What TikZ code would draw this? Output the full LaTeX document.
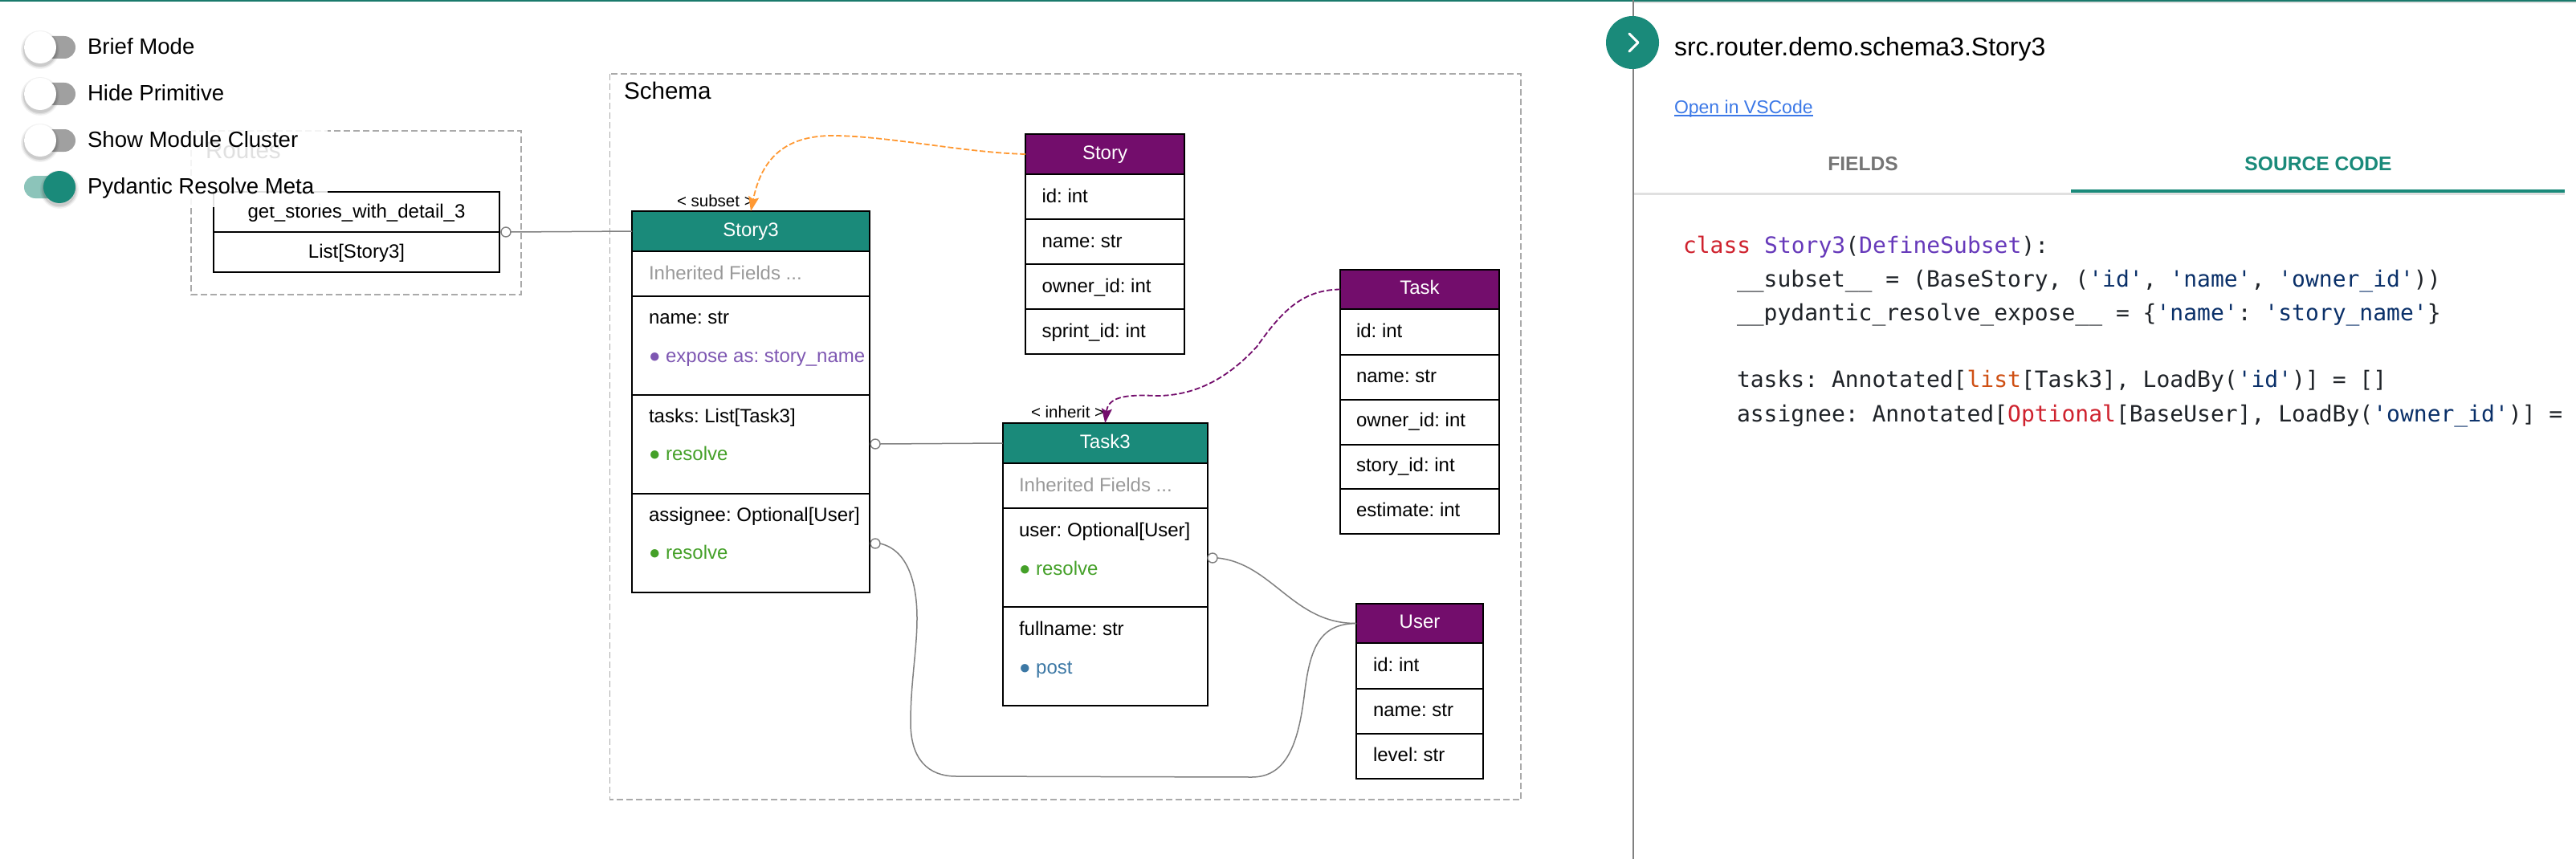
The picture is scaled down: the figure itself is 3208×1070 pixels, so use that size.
\documentclass[tikz,border=0pt]{standalone}
\usepackage{fontspec}
\setmainfont{Liberation Sans}
\newfontfamily\codefont[Ligatures=ResetAll]{DejaVu Sans Mono}
\usetikzlibrary{arrows.meta}
\definecolor{teal1}{RGB}{26,138,122}
\definecolor{topbar}{RGB}{26,122,108}
\definecolor{purp}{RGB}{115,13,108}
\definecolor{orng}{RGB}{255,153,51}
\definecolor{ttrack}{RGB}{160,160,160}
\definecolor{tontrack}{RGB}{140,196,186}
\definecolor{dashgray}{RGB}{170,170,170}
\definecolor{conngray}{RGB}{128,128,128}
\definecolor{inhgray}{RGB}{153,153,153}
\definecolor{expcol}{RGB}{126,87,178}
\definecolor{rescol}{RGB}{68,160,40}
\definecolor{postcol}{RGB}{60,120,165}
\definecolor{linkcol}{RGB}{59,120,231}
\definecolor{tabgray}{RGB}{117,117,117}
\definecolor{ckw}{RGB}{207,34,46}
\definecolor{ccls}{RGB}{102,57,186}
\definecolor{cstr}{RGB}{10,48,105}
\definecolor{cbi}{RGB}{207,80,20}
\definecolor{ctxt}{RGB}{31,35,40}
\tikzset{
  tablecell/.style={draw=black,line width=2pt,fill=white,inner sep=0pt,outer sep=0pt,font=\fontsize{24}{28}\selectfont,text depth=5pt,text height=17pt},
  routecell/.style={tablecell,text depth=3pt},
  headg/.style={tablecell,fill=teal1,text=white},
  headp/.style={tablecell,fill=purp,text=white},
  lbl/.style={anchor=base west,inner sep=0pt,outer sep=0pt,font=\fontsize{24}{28}\selectfont},
  inh/.style={lbl,text=inhgray},
  small/.style={lbl,font=\fontsize{20.5}{24}\selectfont},
  big/.style={lbl,font=\fontsize{29.6}{34}\selectfont},
  tog/.style={lbl,font=\fontsize{27.6}{32}\selectfont},
  codeline/.style={anchor=base west,inner sep=0pt,outer sep=0pt,text=ctxt,font=\codefont\fontsize{28}{32}\selectfont},
  tabtext/.style={anchor=base,inner sep=0pt,outer sep=0pt,font=\bfseries\fontsize{24.6}{28}\selectfont},
  groupbox/.style={draw=dashgray,line width=1.6pt,dash pattern=on 8pt off 4pt},
  port/.style={circle,draw=conngray,fill=white,line width=1.4pt,minimum size=12pt,inner sep=0pt,outer sep=0pt},
  conn/.style={draw=conngray,line width=1.5pt},
  subsetline/.style={draw=orng,line width=1.8pt,dash pattern=on 7pt off 3pt},
  inheritline/.style={draw=purp,line width=1.8pt,dash pattern=on 7pt off 3pt},
}
\newcommand{\cellbox}[6][tablecell]{\node[#1,minimum width={#5-#3},minimum height={#6-#4}] (#2) at ({(#3+#5)/2},{(#4+#6)/2}) {};}
\newcommand{\headbox}[7][headg]{\node[#1,minimum width={#5-#3},minimum height={#6-#4}] (#2) at ({(#3+#5)/2},{(#4+#6)/2}) {#7};}
\newcommand{\txt}[5][lbl]{\node[#1] (#2) at (#3,#4) {#5};}
\newcommand{\knob}[3]{%
  \foreach \rr/\op in {24/.05,22.5/.07,21/.09}{\fill[black,opacity=\op] (#1,#2+3) circle[radius=\rr];}
  \fill[#3] (#1,#2) circle[radius=20];}
\newcommand{\track}[2]{\fill[#2,rounded corners=14pt] (30,#1-14) rectangle (94,#1+14);}
\newcommand{\q}{\char39 }
\frenchspacing
\begin{document}
\frenchspacing
\begin{tikzpicture}[x=1pt,y=-1pt]
\useasboundingbox (0,0) rectangle (3208,1070);
\fill[white] (0,0) rectangle (3208,1070);
% group boxes
\draw[groupbox] (238,163) rectangle (649,367);
\draw[groupbox] (759.5,92) rectangle (1894,996);
\txt[big,text=black]{routeslbl}{256}{197}{Routes}
\txt[big]{schemalbl}{777}{124}{Schema}
% route table
\headbox[routecell]{r1}{266}{239}{622}{289}{get\_stories\_with\_detail\_3}
\headbox[routecell]{r2}{266}{289}{622}{339}{List[Story3]}
% Story3
\headbox{story3h}{787}{263}{1083}{313}{Story3}
\cellbox{s3a}{787}{313}{1083}{369}
\cellbox{s3b}{787}{369}{1083}{492}
\cellbox{s3c}{787}{492}{1083}{615}
\cellbox{s3d}{787}{615}{1083}{738}
\txt[inh]{s3ta}{808}{348.5}{Inherited Fields ...}
\txt{s3tb}{808}{403}{name: str}
\txt[lbl,text=expcol]{s3tb2}{808}{451}{● expose as: story\_name}
\txt{s3tc}{808}{526}{tasks: List[Task3]}
\txt[lbl,text=rescol]{s3tc2}{808}{573.5}{● resolve}
\txt{s3td}{808}{649}{assignee: Optional[User]}
\txt[lbl,text=rescol]{s3td2}{808}{696.5}{● resolve}
% Story
\headbox[headp]{storyh}{1277}{167}{1475}{217}{Story}
\cellbox{st1}{1277}{217}{1475}{273}
\cellbox{st2}{1277}{273}{1475}{329}
\cellbox{st3}{1277}{329}{1475}{385}
\cellbox{st4}{1277}{385}{1475}{441}
\txt{stt1}{1297.5}{252}{id: int}
\txt{stt2}{1297.5}{308}{name: str}
\txt{stt3}{1297.5}{364}{owner\_id: int}
\txt{stt4}{1297.5}{420}{sprint\_id: int}
% Task3
\headbox{task3h}{1248.5}{527}{1504}{577}{Task3}
\cellbox{t3a}{1248.5}{577}{1504}{633}
\cellbox{t3b}{1248.5}{633}{1504}{756}
\cellbox{t3c}{1248.5}{756}{1504}{879}
\txt[inh]{t3ta}{1269}{612.5}{Inherited Fields ...}
\txt{t3tb}{1269}{668}{user: Optional[User]}
\txt[lbl,text=rescol]{t3tb2}{1269}{716}{● resolve}
\txt{t3tc}{1269}{791}{fullname: str}
\txt[lbl,text=postcol]{t3tc2}{1269}{839}{● post}
% Task
\headbox[headp]{taskh}{1669}{336}{1867}{385}{Task}
\cellbox{ta1}{1669}{385}{1867}{442}
\cellbox{ta2}{1669}{442}{1867}{498}
\cellbox{ta3}{1669}{498}{1867}{553.5}
\cellbox{ta4}{1669}{553.5}{1867}{609}
\cellbox{ta5}{1669}{609}{1867}{665}
\txt{tat1}{1689}{420}{id: int}
\txt{tat2}{1689}{476}{name: str}
\txt{tat3}{1689}{531.5}{owner\_id: int}
\txt{tat4}{1689}{587}{story\_id: int}
\txt{tat5}{1689}{643}{estimate: int}
% User
\headbox[headp]{userh}{1689}{752}{1847}{801}{User}
\cellbox{u1}{1689}{801}{1847}{858}
\cellbox{u2}{1689}{858}{1847}{914}
\cellbox{u3}{1689}{914}{1847}{970}
\txt{ut1}{1710}{836}{id: int}
\txt{ut2}{1710}{892}{name: str}
\txt{ut3}{1710}{948}{level: str}
% edge labels
\txt[small]{subsetlbl}{843}{257}{< subset >}
\txt[small]{inheritlbl}{1284}{520}{< inherit >}
% ports
\node[port] (p1) at (630,289) {};
\node[port] (p2) at (1090,553) {};
\node[port] (p3) at (1090,677) {};
\node[port] (p4) at (1510,695) {};
% connectors
\draw[conn] (p1.east) -- (story3h.west);
\draw[conn] (p2.east) -- (task3h.west);
\draw[conn] (p3.east) .. controls (1130,685) and (1142,725) .. (1142,770)
  .. controls (1142,810) and (1134,850) .. (1134,900)
  .. controls (1134,945) and (1155,967) .. (1191,967)
  -- (1559,968)
  .. controls (1605,968) and (1618,920) .. (1625,860)
  .. controls (1632,805) and (1645,777) .. (userh.west);
\draw[conn] (p4.east) .. controls (1585,702) and (1610,777) .. (userh.west);
\draw[subsetline,-{Stealth[length=18pt,width=13pt,inset=3pt,fill=orng]}] (storyh.west)
  .. controls (1200,190) and (1110,170) .. (1040,169)
  .. controls (975,168) and (948,200) .. (story3h.north);
\draw[inheritline,-{Stealth[length=18pt,width=13pt,inset=3pt,fill=purp]}] (taskh.west)
  .. controls (1620,361) and (1595,390) .. (1565,432)
  .. controls (1530,470) and (1490,493) .. (1440,493)
  .. controls (1400,491) and (1380,495) .. (task3h.north);
% overlay and toggles
\fill[white,opacity=.88] (0,20) rectangle (408,258);
\track{59}{ttrack}\knob{50}{59}{white}
\track{117}{ttrack}\knob{50}{117}{white}
\track{175}{ttrack}\knob{50}{175}{white}
\track{233}{tontrack}\knob{74}{233}{teal1}
\txt[tog]{tog1}{109}{67.5}{Brief Mode}
\txt[tog]{tog2}{109}{125.5}{Hide Primitive}
\txt[tog]{tog3}{109}{183.5}{Show Module Cluster}
\txt[tog]{tog4}{109}{241.5}{Pydantic Resolve Meta}
% right panel
\fill[topbar] (0,0) rectangle (3208,2.5);
\fill[black!12] (2034,2.5) rectangle (3208,4);
\draw[draw=black!50,line width=2.5pt] (2034,0) -- (2034,1070);
\fill[teal1] (2033,53) circle[radius=33];
\draw[white,line width=3pt,line cap=round,line join=round] (2029,42) -- (2040,53) -- (2029,64);
\txt[lbl,font=\fontsize{32}{36}\selectfont]{title}{2085}{70}{src.router.demo.schema3.Story3}
\txt[lbl,font=\fontsize{23}{26}\selectfont,text=linkcol]{vscode}{2085}{141.5}{Open in VSCode}
\draw[linkcol,line width=1.6pt] ([yshift=-2.5pt]vscode.base west) -- ([yshift=-2.5pt]vscode.base east);
\txt[tabtext,text=tabgray]{tabf}{2320}{212}{FIELDS}
\txt[tabtext,text=teal1]{tabs}{2887}{212}{SOURCE CODE}
\fill[black!12] (2035,240) rectangle (3194,242.5);
\fill[teal1] (2579,236) rectangle (3194,240);
% code
\txt[codeline]{c1}{2096}{315}{{\color{ckw}class} {\color{ccls}Story3}({\color{ccls}DefineSubset}):}
\txt[codeline]{c2}{2163}{357}{\_\_subset\_\_ = (BaseStory, ({\color{cstr}\q id\q}, {\color{cstr}\q name\q}, {\color{cstr}\q owner\_id\q}))}
\txt[codeline]{c3}{2163}{399.5}{\_\_pydantic\_resolve\_expose\_\_ = \{{\color{cstr}\q name\q}: {\color{cstr}\q story\_name\q}\}}
\txt[codeline]{c4}{2163}{482.5}{tasks: Annotated[{\color{cbi}list}[Task3], LoadBy({\color{cstr}\q id\q})] = []}
\txt[codeline]{c5}{2163}{525}{assignee: Annotated[{\color{ckw}Optional}[BaseUser], LoadBy({\color{cstr}\q owner\_id\q})] =}
\end{tikzpicture}
\end{document}
